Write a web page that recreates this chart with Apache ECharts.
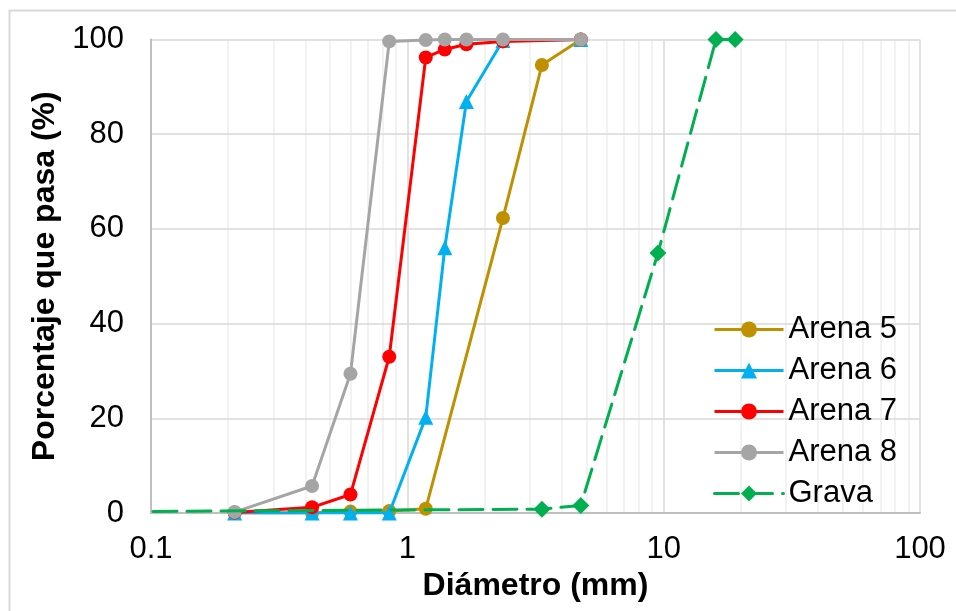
<!DOCTYPE html>
<html><head><meta charset="utf-8">
<script src="https://cdn.jsdelivr.net/npm/echarts@6/dist/echarts.min.js"></script>
<style>html,body{margin:0;padding:0;background:#fff}#c{width:956px;height:611px}</style>
</head><body><div id="c"></div>
<script>
const seriesNames = ['Arena 5', 'Arena 6', 'Arena 7', 'Arena 8', 'Grava'];
const arena5Sizes = [0.212, 0.425, 0.6, 0.85, 1.18, 2.36, 3.35, 4.75];
const arena5Pass  = [0, 0, 0.3, 0.4, 0.9, 62.3, 94.6, 100];
const arena6Sizes = [0.212, 0.425, 0.6, 0.85, 1.18, 1.4, 1.7, 2.36, 4.75];
const arena6Pass  = [0, 0, 0, 0, 20.2, 56, 86.9, 99.8, 100];
const arena7Sizes = [0.212, 0.425, 0.6, 0.85, 1.18, 1.4, 1.7, 2.36, 4.75];
const arena7Pass  = [0.1, 1.2, 3.9, 33.0, 96.2, 97.9, 99.0, 99.6, 100];
const arena8Sizes = [0.212, 0.425, 0.6, 0.85, 1.18, 1.4, 1.7, 2.36, 4.75];
const arena8Pass  = [0.2, 5.7, 29.4, 99.6, 99.9, 100, 100, 100, 100];
const gravaSizes  = [0.075, 3.35, 4.75, 9.5, 16, 19];
const gravaPass   = [0.3, 0.8, 1.6, 54.9, 100, 100];
const minorGridValues = [0.2,0.3,0.4,0.5,0.6,0.7,0.8,0.9,2,3,4,5,6,7,8,9,20,30,40,50,60,70,80,90];
const seriesColors = ['#BF9000', '#00B0F0', '#FF0000', '#A5A5A5', '#00B050'];
const seriesSymbols = ['circle', 'triangle', 'circle', 'circle', 'diamond'];
const seriesSymbolSizes = [14, 15, 14, 14, 17];

const sizesList = [arena5Sizes, arena6Sizes, arena7Sizes, arena8Sizes, gravaSizes];
const passList = [arena5Pass, arena6Pass, arena7Pass, arena8Pass, gravaPass];
const FONT = '"Liberation Sans", Arial, Helvetica, sans-serif';

const chart = echarts.init(document.getElementById('c'), null, {renderer: 'canvas'});

const series = [{
  name: '_minor', type: 'line', data: [], z: 1, silent: true,
  markLine: {
    silent: true, symbol: ['none', 'none'], label: {show: false},
    z: -1,
    lineStyle: {color: '#eeeeee', width: 1.5, type: 'solid'},
    emphasis: {disabled: true},
    animation: false,
    data: minorGridValues.map(v => ({xAxis: v}))
  }
}];
seriesNames.forEach((n, i) => {
  series.push({
    name: n, type: 'line', z: 2 + i,
    data: sizesList[i].map((x, j) => [x, passList[i][j]]),
    symbol: seriesSymbols[i],
    symbolSize: seriesSymbolSizes[i],
    showAllSymbol: true,
    clip: true,
    itemStyle: {color: seriesColors[i]},
    lineStyle: {color: seriesColors[i], width: 3,
      type: n === 'Grava' ? [24, 10] : 'solid', cap: n === 'Grava' ? 'round' : 'butt'},
    emphasis: {disabled: true},
    animation: false
  });
});

chart.setOption({
  backgroundColor: '#ffffff',
  animation: false,
  textStyle: {fontFamily: FONT},
  graphic: [{
    type: 'rect', left: 7, top: 8, silent: true,
    shape: {x: 0, y: 0, width: 980, height: 640},
    style: {fill: 'none', stroke: '#d9d9d9', lineWidth: 2}
  }],
  grid: {left: 151, right: 36, top: 39.5, bottom: 98, containLabel: false},
  legend: {
    data: seriesNames, orient: 'vertical', left: 708, top: 309,
    itemWidth: 69, itemHeight: 20, itemGap: 10,
    lineStyle: {width: 3},
    textStyle: {fontSize: 31, color: '#000', fontFamily: FONT, lineHeight: 30},
    selectedMode: false
  },
  xAxis: {
    type: 'log', logBase: 10, min: 0.1, max: 100,
    name: 'Diámetro (mm)', nameLocation: 'middle', nameGap: 57,
    nameTextStyle: {fontSize: 32, fontWeight: 'bold', color: '#000', fontFamily: FONT},
    axisLine: {show: true, lineStyle: {color: '#bfbfbf', width: 2}},
    axisTick: {show: false},
    axisLabel: {fontSize: 31, color: '#000', margin: 21, fontFamily: FONT,
      formatter: v => String(v)},
    splitLine: {show: true, lineStyle: {color: '#d9d9d9', width: 1.5}}
  },
  yAxis: {
    type: 'value', min: 0, max: 100, interval: 20,
    name: 'Porcentaje que pasa (%)', nameLocation: 'middle', nameGap: 89,
    nameTextStyle: {fontSize: 32, fontWeight: 'bold', color: '#000', fontFamily: FONT},
    axisLine: {show: true, lineStyle: {color: '#bfbfbf', width: 2}},
    axisTick: {show: false},
    axisLabel: {fontSize: 31, color: '#000', margin: 27, fontFamily: FONT},
    splitLine: {show: true, lineStyle: {color: '#d9d9d9', width: 1.5}}
  },
  series: series
});
</script></body></html>
